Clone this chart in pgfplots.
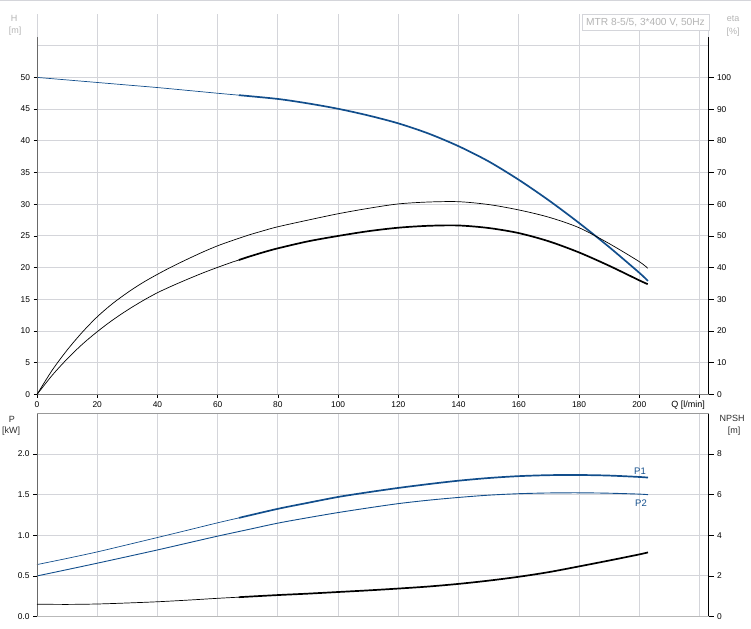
\documentclass[border=0pt]{standalone}
\usepackage{fontspec}
\setmainfont{Liberation Sans}
\usepackage{pgfplots}
\pgfplotsset{compat=1.18}
\definecolor{gridc}{RGB}{212,213,218}
\definecolor{pblue}{RGB}{18,78,140}
\definecolor{pale}{RGB}{180,180,180}
\definecolor{spine}{RGB}{105,105,105}
\definecolor{lab}{RGB}{45,45,45}
\pgfplotsset{
  base/.style={scale only axis, width=671.5bp, xmin=0, xmax=223, anchor=south west,
    axis line style={draw=none}, clip=false,
    tick label style={font=\fontsize{8.4bp}{10bp}\selectfont, text=black},
    /pgf/number format/assume math mode=true,
    tick align=outside, tick style={black, line width=0.7bp}},
  thn/.style={line width=0.7bp, smooth},
  thk/.style={line width=1.7bp, smooth},
}
\begin{document}
\begin{tikzpicture}[x=1bp,y=1bp]
\useasboundingbox (0,0) rectangle (751,629);
\draw[gridc, line width=1.2bp] (0,628.4) -- (751,628.4);
% ---------------- top panel: H ----------------
\begin{axis}[base, at={(37bp,234.5bp)}, height=380.5bp, ymin=0, ymax=60,
  xtick={0,20,...,220}, xticklabels={0,20,40,60,80,100,120,140,160,180,200,{}},
  ytick={0,5,...,50}, ytick pos=left, xtick pos=bottom,
  major tick length=3.5bp,
  extra y ticks={55}, extra y tick labels={},
  extra y tick style={major tick length=0pt, grid=major},
  grid=major, grid style={gridc, line width=1bp}]
\addplot[pblue, thn] coordinates {(0,50) (10,49.6) (20,49.2) (30,48.8) (40,48.4) (50,47.95) (60,47.5) (67,47.2)};
\addplot[pblue, thk] coordinates {(67,47.2) (80,46.6) (90,45.9) (100,45.05) (110,44.0) (120,42.75) (130,41.15) (140,39.15) (150,36.75) (160,33.85) (170,30.6) (180,27.05) (190,23.25) (200,19.2) (202.9,17.9)};
\draw[spine, line width=1bp] (axis cs:0,0) -- (axis cs:0,56.3);
\draw[gridc, line width=1bp] (axis cs:0,56.3) -- (axis cs:0,60);
\draw[black, line width=1.2bp] (axis cs:223,0) -- (axis cs:223,56.3);
\draw[gridc, line width=1bp] (axis cs:223,56.3) -- (axis cs:223,60);
\draw[gray, line width=1.6bp] (axis cs:0,0) -- (axis cs:223,0);
\end{axis}
% ---------------- top panel: eta ----------------
\begin{axis}[base, at={(37bp,234.5bp)}, height=380.5bp, ymin=0, ymax=120,
  xtick=\empty, ytick={0,10,...,100}, ytick pos=right, major tick length=5bp]
\addplot[black, thn] coordinates {(0,0) (5,7.6) (10,14.0) (15,19.6) (20,24.5) (25,28.6) (30,32.1) (35,35.2) (40,37.9) (45,40.4) (50,42.7) (55,44.9) (60,46.9) (65,48.6) (70,50.2) (75,51.6) (80,52.9) (90,55.0) (100,57.0) (110,58.7) (120,60.1) (130,60.7) (140,60.8) (150,59.9) (160,58.2) (170,55.9) (180,52.6) (190,47.6) (200,41.9) (202.8,39.8)};
\addplot[black, thn] coordinates {(0,0) (5,6.0) (10,11.2) (15,15.8) (20,19.8) (25,23.4) (30,26.6) (35,29.5) (40,32.1) (45,34.3) (50,36.35) (55,38.3) (60,40.1) (65,41.8) (67,42.4)};
\addplot[black, thk] coordinates {(67,42.4) (70,43.35) (75,44.8) (80,46.1) (90,48.3) (100,50.0) (110,51.5) (120,52.6) (130,53.2) (140,53.3) (150,52.5) (160,50.9) (170,48.3) (180,44.8) (190,40.6) (200,36.0) (202.8,34.8)};
\end{axis}
% ---------------- bottom panel: P ----------------
\begin{axis}[base, at={(37bp,12.4bp)}, height=203.2bp, ymin=0, ymax=2.5,
  xtick={0,20,...,220}, xticklabels={}, xtick style={draw=none},
  ytick={0,0.5,1,1.5,2}, ytick pos=left, major tick length=4bp,
  yticklabel style={/pgf/number format/.cd, fixed, fixed zerofill, precision=1},
  grid=major, grid style={gridc, line width=1bp}]
\addplot[pblue, thn] coordinates {(0,0.64) (10,0.716) (20,0.796) (30,0.884) (40,0.973) (50,1.063) (60,1.154) (67,1.214)};
\addplot[pblue, thk] coordinates {(67,1.214) (80,1.326) (90,1.40) (100,1.472) (110,1.53) (120,1.583) (130,1.63) (140,1.672) (150,1.705) (160,1.728) (170,1.740) (180,1.742) (190,1.735) (200,1.718) (202.9,1.71)};
\addplot[pblue, line width=0.9bp, smooth] coordinates {(0,0.5) (10,0.578) (20,0.657) (30,0.738) (40,0.82) (50,0.905) (60,0.99) (70,1.07) (80,1.15) (90,1.217) (100,1.28) (110,1.337) (120,1.39) (130,1.432) (140,1.466) (150,1.494) (160,1.512) (170,1.521) (180,1.523) (190,1.518) (200,1.507) (202.9,1.50)};
\draw[spine, line width=1bp] (axis cs:0,0) -- (axis cs:0,2.5);
\draw[black, line width=1.2bp] (axis cs:223,0) -- (axis cs:223,2.5);
\draw[gray!80, line width=1.6bp] (axis cs:0,2.5) -- (axis cs:223,2.5);
\draw[gray!55, line width=1.6bp] (axis cs:0,0) -- (axis cs:223,0);
\end{axis}
% ---------------- bottom panel: NPSH ----------------
\begin{axis}[base, at={(37bp,12.4bp)}, height=203.2bp, ymin=0, ymax=10,
  xtick=\empty, ytick={0,2,4,6,8}, ytick pos=right, major tick length=5bp]
\addplot[black, thn] coordinates {(0,0.61) (10,0.60) (20,0.62) (30,0.67) (40,0.73) (50,0.81) (60,0.90) (67,0.955)};
\addplot[black, thk] coordinates {(67,0.955) (70,0.98) (80,1.06) (90,1.13) (100,1.21) (110,1.29) (120,1.38) (130,1.48) (140,1.61) (150,1.77) (160,1.96) (170,2.19) (180,2.47) (190,2.76) (200,3.06) (202.9,3.16)};
\end{axis}
% ---------------- texts ----------------
\begin{scope}[every node/.style={font=\fontsize{9bp}{10bp}\selectfont, inner sep=0pt}]
\node[pale] at (14,611) {H};
\node[pale] at (15,598) {[m]};
\node[pale] at (733,610) {eta};
\node[pale] at (733,597) {[\%]};
\node[lab] at (12,210) {P};
\node[lab] at (11,198) {[kW]};
\node[lab] at (732,210.5) {NPSH};
\node[lab] at (734,198) {[m]};
\node[black, anchor=base east] at (705,221.5) {Q [l/min]};
\node[pblue, font=\fontsize{9.5bp}{10bp}\selectfont] at (640,158) {P1};
\node[pblue, font=\fontsize{9.5bp}{10bp}\selectfont] at (641,126) {P2};
\node[pale, draw=gridc, fill=white, line width=0.8bp, minimum width=127bp, minimum height=16bp, font=\fontsize{10.2bp}{11bp}\selectfont] at (645.5,607) {MTR 8-5/5, 3*400 V, 50Hz};
\end{scope}
\end{tikzpicture}
\end{document}
